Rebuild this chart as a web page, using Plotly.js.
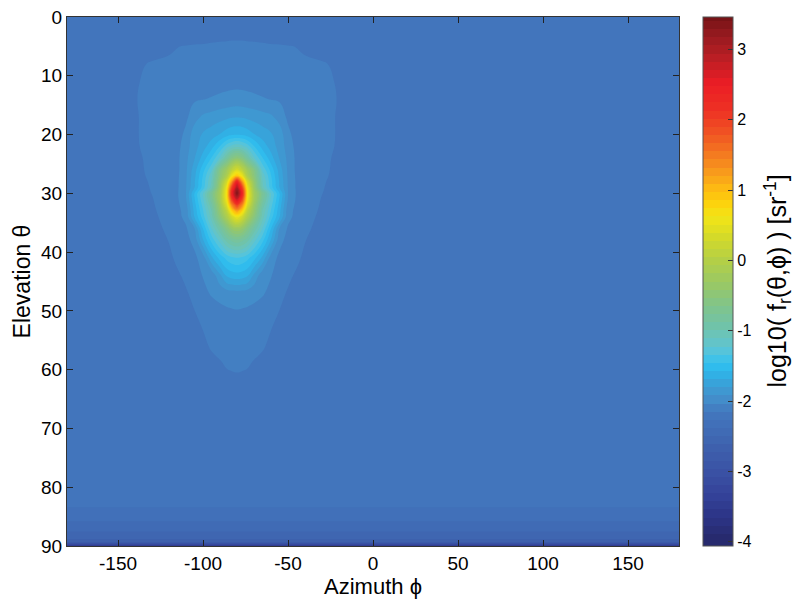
<!DOCTYPE html>
<html><head><meta charset="utf-8">
<script src="https://cdn.plot.ly/plotly-3.0.1.min.js"></script>
<style>html,body{margin:0;padding:0;background:#fff}</style>
</head><body><div id="chart" style="width:798px;height:602px"></div>
<script>
// Azimuth (deg) sample columns
const azimuth = [-180,-160,-150,-140,-130,-120,-115,-110,-105,-100,-95,-90,-86,-83,-80,-77,-74,-70,-65,-60,-55,-50,-45,-40,-30,-20,-10,0,60,120,180];
// Elevation (deg) sample rows
const elevation = [0,3,5,8,11,14,17,20,22,24,26,27,28,29,30,31,32,33,34,36,38,41,44,47,50,53,56,59,62,70,80,83,85,87,88.5,89.3,90];
// background level
const BG = -2.21;
// log10 BRDF values, one row per elevation
const logBRDF = [
[BG,BG,BG,BG,BG,BG,BG,BG,BG,BG,BG,BG,BG,BG,BG,BG,BG,BG,BG,BG,BG,BG,BG,BG,BG,BG,BG,BG,BG,BG,BG],
[BG,BG,BG,BG,BG,BG,BG,BG,-2.2,-2.19,-2.185,-2.18,-2.175,-2.17,-2.17,-2.17,-2.175,-2.18,-2.185,-2.19,-2.2,BG,BG,BG,BG,BG,BG,BG,BG,BG,BG],
[BG,BG,BG,BG,-2.2,-2.17,-2.152,-2.145,-2.14,-2.14,-2.135,-2.13,-2.13,-2.13,-2.13,-2.13,-2.13,-2.13,-2.135,-2.14,-2.14,-2.145,-2.152,-2.17,-2.2,BG,BG,BG,BG,BG,BG],
[BG,BG,BG,-2.17,-2.14,-2.13,-2.13,-2.125,-2.12,-2.12,-2.115,-2.11,-2.11,-2.11,-2.11,-2.11,-2.11,-2.11,-2.115,-2.12,-2.12,-2.125,-2.13,-2.13,-2.14,-2.17,BG,BG,BG,BG,BG],
[BG,BG,BG,-2.16,-2.125,-2.115,-2.11,-2.105,-2.1,-2.095,-2.09,-2.08,-2.075,-2.07,-2.07,-2.07,-2.075,-2.08,-2.09,-2.095,-2.1,-2.105,-2.11,-2.115,-2.125,-2.16,BG,BG,BG,BG,BG],
[BG,BG,BG,-2.155,-2.12,-2.1,-2.085,-2.07,-2.05,-2.038,-2.025,-2.01,-2.0,-1.995,-1.99,-1.995,-2.0,-2.01,-2.025,-2.038,-2.05,-2.07,-2.085,-2.1,-2.12,-2.155,BG,BG,BG,BG,BG],
[BG,BG,BG,-2.16,-2.115,-2.095,-2.08,-2.06,-1.96,-1.9,-1.875,-1.85,-1.83,-1.815,-1.81,-1.815,-1.83,-1.85,-1.875,-1.9,-1.96,-2.06,-2.08,-2.095,-2.115,-2.16,BG,BG,BG,BG,BG],
[BG,BG,BG,-2.16,-2.115,-2.1,-2.09,-2.0,-1.86,-1.79,-1.74,-1.68,-1.62,-1.59,-1.58,-1.59,-1.62,-1.68,-1.74,-1.79,-1.86,-2.0,-2.09,-2.1,-2.115,-2.16,BG,BG,BG,BG,BG],
[BG,BG,BG,-2.165,-2.11,-2.09,-2.07,-1.97,-1.85,-1.74,-1.62,-1.45,-1.28,-1.19,-1.15,-1.19,-1.28,-1.45,-1.62,-1.74,-1.85,-1.97,-2.07,-2.09,-2.11,-2.165,BG,BG,BG,BG,BG],
[BG,BG,BG,-2.175,-2.12,-2.085,-2.06,-1.95,-1.81,-1.64,-1.45,-1.2,-0.85,-0.6,-0.48,-0.6,-0.85,-1.2,-1.45,-1.64,-1.81,-1.95,-2.06,-2.085,-2.12,-2.175,BG,BG,BG,BG,BG],
[BG,BG,BG,-2.185,-2.12,-2.08,-2.06,-1.94,-1.74,-1.5,-1.25,-0.6,-0.25,0.1,0.35,0.1,-0.25,-0.6,-1.25,-1.5,-1.74,-1.94,-2.06,-2.08,-2.12,-2.185,BG,BG,BG,BG,BG],
[BG,BG,BG,-2.19,-2.125,-2.075,-2.055,-1.935,-1.72,-1.45,-1.15,-0.52,-0.1,0.55,0.9,0.55,-0.1,-0.52,-1.15,-1.45,-1.72,-1.935,-2.055,-2.075,-2.125,-2.19,BG,BG,BG,BG,BG],
[BG,BG,BG,-2.195,-2.135,-2.07,-2.05,-1.93,-1.7,-1.42,-1.1,-0.4,0.3,1.3,2.4,1.3,0.3,-0.4,-1.1,-1.42,-1.7,-1.93,-2.05,-2.07,-2.135,-2.195,BG,BG,BG,BG,BG],
[BG,BG,BG,-2.207,-2.14,-2.07,-2.05,-1.925,-1.69,-1.4,-1.05,-0.3,0.55,2.0,3.0,2.0,0.55,-0.3,-1.05,-1.4,-1.69,-1.925,-2.05,-2.07,-2.14,-2.207,BG,BG,BG,BG,BG],
[BG,BG,BG,BG,-2.147,-2.065,-2.045,-1.92,-1.57,-1.23,-0.75,-0.2,0.65,2.4,3.4,2.4,0.65,-0.2,-0.75,-1.23,-1.57,-1.92,-2.045,-2.065,-2.147,BG,BG,BG,BG,BG,BG],
[BG,BG,BG,BG,-2.157,-2.07,-2.05,-1.93,-1.585,-1.25,-0.8,-0.2,0.6,2.0,2.8,2.0,0.6,-0.2,-0.8,-1.25,-1.585,-1.93,-2.05,-2.07,-2.157,BG,BG,BG,BG,BG,BG],
[BG,BG,BG,BG,-2.165,-2.075,-2.06,-1.96,-1.62,-1.3,-0.9,-0.3,0.4,1.4,2.0,1.4,0.4,-0.3,-0.9,-1.3,-1.62,-1.96,-2.06,-2.075,-2.165,BG,BG,BG,BG,BG,BG],
[BG,BG,BG,BG,-2.175,-2.08,-2.065,-1.99,-1.65,-1.35,-1.0,-0.4,0.1,0.8,1.2,0.8,0.1,-0.4,-1.0,-1.35,-1.65,-1.99,-2.065,-2.08,-2.175,BG,BG,BG,BG,BG,BG],
[BG,BG,BG,BG,-2.19,-2.085,-2.07,-2.0,-1.68,-1.4,-1.05,-0.52,-0.1,0.3,0.55,0.3,-0.1,-0.52,-1.05,-1.4,-1.68,-2.0,-2.07,-2.085,-2.19,BG,BG,BG,BG,BG,BG],
[BG,BG,BG,BG,BG,-2.115,-2.09,-2.05,-1.92,-1.57,-1.23,-0.9,-0.6,-0.38,-0.3,-0.38,-0.6,-0.9,-1.23,-1.57,-1.92,-2.05,-2.09,-2.115,BG,BG,BG,BG,BG,BG,BG],
[BG,BG,BG,BG,BG,-2.145,-2.11,-2.07,-2.0,-1.7,-1.42,-1.18,-0.95,-0.85,-0.8,-0.85,-0.95,-1.18,-1.42,-1.7,-2.0,-2.07,-2.11,-2.145,BG,BG,BG,BG,BG,BG,BG],
[BG,BG,BG,BG,BG,-2.18,-2.12,-2.09,-2.06,-1.98,-1.72,-1.53,-1.42,-1.37,-1.35,-1.37,-1.42,-1.53,-1.72,-1.98,-2.06,-2.09,-2.12,-2.18,BG,BG,BG,BG,BG,BG,BG],
[BG,BG,BG,BG,BG,BG,-2.17,-2.12,-2.08,-2.03,-2.0,-1.83,-1.67,-1.635,-1.62,-1.635,-1.67,-1.83,-2.0,-2.03,-2.08,-2.12,-2.17,BG,BG,BG,BG,BG,BG,BG,BG],
[BG,BG,BG,BG,BG,BG,BG,-2.165,-2.11,-2.06,-2.025,-2.0,-1.98,-1.97,-1.965,-1.97,-1.98,-2.0,-2.025,-2.06,-2.11,-2.165,BG,BG,BG,BG,BG,BG,BG,BG,BG],
[BG,BG,BG,BG,BG,BG,BG,BG,-2.152,-2.1,-2.075,-2.06,-2.05,-2.045,-2.04,-2.045,-2.05,-2.06,-2.075,-2.1,-2.152,BG,BG,BG,BG,BG,BG,BG,BG,BG,BG],
[BG,BG,BG,BG,BG,BG,BG,BG,-2.2,-2.145,-2.12,-2.1,-2.09,-2.085,-2.08,-2.085,-2.09,-2.1,-2.12,-2.145,-2.2,BG,BG,BG,BG,BG,BG,BG,BG,BG,BG],
[BG,BG,BG,BG,BG,BG,BG,BG,BG,-2.19,-2.13,-2.115,-2.11,-2.105,-2.105,-2.105,-2.11,-2.115,-2.13,-2.19,BG,BG,BG,BG,BG,BG,BG,BG,BG,BG,BG],
[BG,BG,BG,BG,BG,BG,BG,BG,BG,BG,-2.2,-2.16,-2.138,-2.132,-2.13,-2.132,-2.138,-2.16,-2.2,BG,BG,BG,BG,BG,BG,BG,BG,BG,BG,BG,BG],
[BG,BG,BG,BG,BG,BG,BG,BG,BG,BG,-2.2,-2.19,-2.18,-2.175,-2.17,-2.175,-2.18,-2.19,-2.2,BG,BG,BG,BG,BG,BG,BG,BG,BG,BG,BG,BG],
[BG,BG,BG,BG,BG,BG,BG,BG,BG,BG,BG,BG,BG,BG,BG,BG,BG,BG,BG,BG,BG,BG,BG,BG,BG,BG,BG,BG,BG,BG,BG],
[BG,BG,BG,BG,BG,BG,BG,BG,BG,BG,BG,BG,BG,BG,BG,BG,BG,BG,BG,BG,BG,BG,BG,BG,BG,BG,BG,BG,BG,BG,BG],
[-2.25,-2.25,-2.25,-2.25,-2.25,-2.25,-2.25,-2.25,-2.25,-2.25,-2.25,-2.25,-2.25,-2.25,-2.25,-2.25,-2.25,-2.25,-2.25,-2.25,-2.25,-2.25,-2.25,-2.25,-2.25,-2.25,-2.25,-2.25,-2.25,-2.25,-2.25],
[-2.33,-2.33,-2.33,-2.33,-2.33,-2.33,-2.33,-2.33,-2.33,-2.33,-2.33,-2.33,-2.33,-2.33,-2.33,-2.33,-2.33,-2.33,-2.33,-2.33,-2.33,-2.33,-2.33,-2.33,-2.33,-2.33,-2.33,-2.33,-2.33,-2.33,-2.33],
[-2.46,-2.46,-2.46,-2.46,-2.46,-2.46,-2.46,-2.46,-2.46,-2.46,-2.46,-2.46,-2.46,-2.46,-2.46,-2.46,-2.46,-2.46,-2.46,-2.46,-2.46,-2.46,-2.46,-2.46,-2.46,-2.46,-2.46,-2.46,-2.46,-2.46,-2.46],
[-2.56,-2.56,-2.56,-2.56,-2.56,-2.56,-2.56,-2.56,-2.56,-2.56,-2.56,-2.56,-2.56,-2.56,-2.56,-2.56,-2.56,-2.56,-2.56,-2.56,-2.56,-2.56,-2.56,-2.56,-2.56,-2.56,-2.56,-2.56,-2.56,-2.56,-2.56],
[-2.68,-2.68,-2.68,-2.68,-2.68,-2.68,-2.68,-2.68,-2.68,-2.68,-2.68,-2.68,-2.68,-2.68,-2.68,-2.68,-2.68,-2.68,-2.68,-2.68,-2.68,-2.68,-2.68,-2.68,-2.68,-2.68,-2.68,-2.68,-2.68,-2.68,-2.68],
[-3.5,-3.5,-3.5,-3.5,-3.5,-3.5,-3.5,-3.5,-3.5,-3.5,-3.5,-3.5,-3.5,-3.5,-3.5,-3.5,-3.5,-3.5,-3.5,-3.5,-3.5,-3.5,-3.5,-3.5,-3.5,-3.5,-3.5,-3.5,-3.5,-3.5,-3.5]
];

const xTickVals = [-150,-100,-50,0,50,100,150];
const xTickText = ['-150','-100','-50','0','50','100','150'];
const yTickVals = [0,10,20,30,40,50,60,70,80,90];
// bottom tick nudged just inside the bar so that it is kept
const cbTickVals = [-3.995,-3,-2,-1,0,1,2,3];
const cbTickText = ['-4','-3','-2','-1','0','1','2','3'];

// colour range of the bar and number of bands
const zMin = -4, zMax = 3.4, nBands = 64;
const step = (zMax - zMin) / nBands;
// Plotly maps the colour scale over [start - step, end] for filled contours
const cMin = zMin - step;

// colour stops [value, colour]
const colorStops = [
 [-4.0,'#272a6e'],[-3.7,'#2c3486'],[-3.4,'#344299'],[-3.1,'#3a50a3'],[-2.8,'#3d5dab'],
 [-2.5,'#406bb5'],[-2.2,'#4278be'],[-2.09,'#4588c7'],[-1.98,'#4292cd'],[-1.86,'#3c9dd5'],
 [-1.75,'#35a9de'],[-1.62,'#2cb8ec'],[-1.5,'#37c1ee'],[-1.35,'#55c4db'],[-1.2,'#66c4c4'],
 [-1.0,'#70c3aa'],[-0.7,'#81c48a'],[-0.4,'#98c866'],[0.0,'#b9d141'],[0.3,'#d6db27'],
 [0.55,'#f2e517'],[0.75,'#fcd20c'],[0.95,'#fdbc12'],[1.2,'#f89a1c'],[1.5,'#f37221'],
 [1.8,'#f04e23'],[2.1,'#ed2f24'],[2.45,'#eb1d25'],[2.8,'#bc1e24'],[3.1,'#9a1b20'],[3.4,'#771316']
];
const colorscale = [[0, colorStops[0][1]]].concat(
  colorStops.map(s => [(s[0] - cMin) / (zMax - cMin), s[1]]));

const FONT = 'Liberation Sans, Arial, Helvetica, sans-serif';

const trace = {
  type: 'contour',
  x: azimuth,
  y: elevation,
  z: logBRDF,
  colorscale: colorscale,
  autocontour: false,
  contours: {start: zMin, end: zMax, size: step, coloring: 'fill', showlines: false},
  line: {width: 0, smoothing: 1.3},
  hoverinfo: 'skip',
  colorbar: {
    x: (703 - 67) / 612, xanchor: 'left', xpad: 0,
    y: 0.5, yanchor: 'middle', ypad: 0,
    len: 1, lenmode: 'fraction',
    thickness: 30, thicknessmode: 'pixels',
    outlinewidth: 1, outlinecolor: '#555',
    ticks: 'inside', ticklen: 5, tickwidth: 1, tickcolor: '#333',
    tickvals: cbTickVals, ticktext: cbTickText,
    tickfont: {family: FONT, size: 16, color: '#000'}
  }
};

const axisCommon = {
  ticks: 'inside', ticklen: 6, tickwidth: 1, tickcolor: '#222',
  showline: true, linecolor: '#333', linewidth: 1, mirror: 'allticks',
  showgrid: false, zeroline: false, automargin: false,
  tickfont: {family: FONT, size: 19, color: '#000'}
};

const layout = {
  width: 798, height: 602,
  margin: {l: 67, r: 119, t: 17, b: 56},
  paper_bgcolor: '#fff', plot_bgcolor: '#fff',
  font: {family: FONT, color: '#000'},
  xaxis: Object.assign({}, axisCommon, {
    range: [-180, 180], tickmode: 'array', tickvals: xTickVals, ticktext: xTickText,
    title: {text: 'Azimuth ϕ', font: {family: FONT, size: 22, color: '#000'}, standoff: 2}
  }),
  yaxis: Object.assign({}, axisCommon, {
    range: [90, 0], tickmode: 'array', tickvals: yTickVals,
    title: {text: 'Elevation θ', font: {family: FONT, size: 23, color: '#000'}, standoff: 4}
  }),
  annotations: [{
    text: 'log10( f<sub>r</sub>(θ,ϕ) ) [sr<sup>-1</sup>]',
    xref: 'paper', yref: 'paper', x: (777 - 67) / 612, y: 0.5,
    xanchor: 'center', yanchor: 'middle', textangle: -90, showarrow: false,
    borderpad: 0,
    font: {family: FONT, size: 25, color: '#000'}
  }]
};

Plotly.newPlot('chart', [trace], layout, {displayModeBar: false, staticPlot: true});
</script>
</body></html>
